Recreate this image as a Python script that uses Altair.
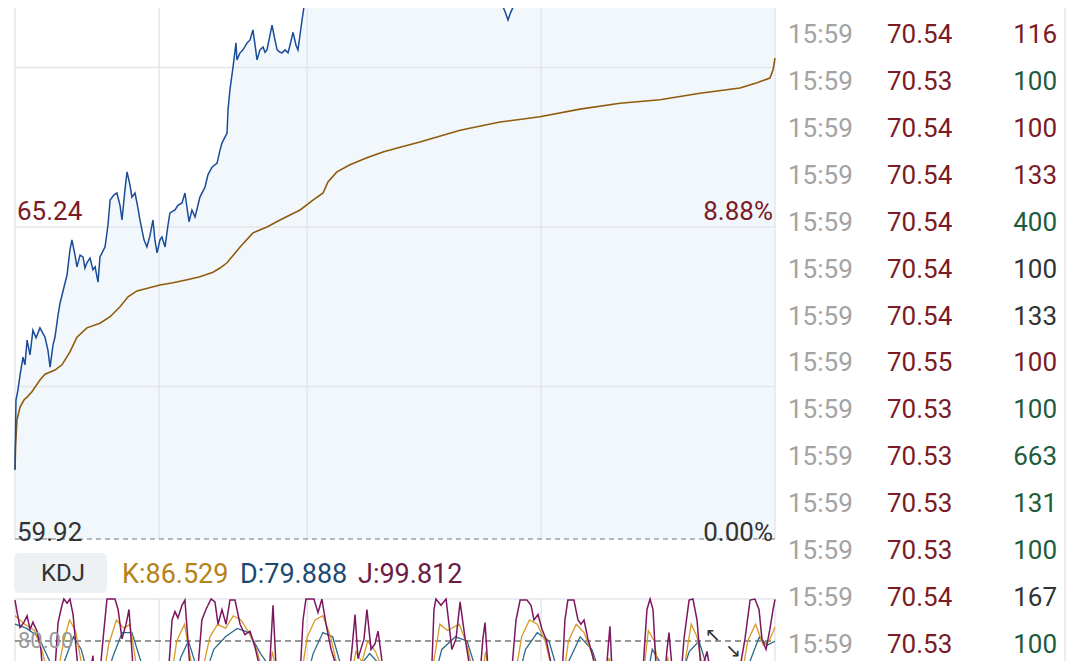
import altair as alt
import pandas as pd

# ---------------- data ----------------
prev_close = 59.92
label_price = 65.24
label_pct = "8.88%"

# intraday price (minutes from open, price)
price_t = [0, 0.5, 1.5, 2.6, 4.1, 5.1, 6.2, 7.7, 9.2, 10.8,
           12.8, 15.4, 16.9, 18.0, 19.5, 20.5, 22.1, 23.1, 25.7, 26.7,
           28.2, 29.2, 30.8, 31.8, 33.4, 34.9, 35.9, 36.9, 38.5, 40.0,
           41.1, 42.6, 43.6, 46.2, 47.7, 48.8, 50.8, 52.3, 53.9, 54.9,
           56.4, 57.5, 59.0, 60.0, 61.6, 63.1, 64.1, 66.2, 67.7, 69.3,
           70.8, 71.8, 72.9, 74.4, 75.4, 77.0, 78.5, 79.5, 82.1, 83.6,
           85.7, 87.2, 89.3, 90.8, 92.4, 94.9, 97.5, 99.0, 101.1, 103.7,
           105.2, 106.2, 108.8, 109.3, 110.3, 111.9, 113.4, 113.9, 115.5, 117.0,
           119.1, 120.6, 122.1, 123.2, 124.2, 125.7, 127.3, 128.3, 129.3, 130.9,
           131.9, 133.4, 134.5, 136.0, 137.0, 138.6, 140.1, 141.1, 142.7, 144.2,
           145.2, 147.3, 148.8, 154, 162, 172, 182, 198, 213, 228,
           244, 249, 251.5, 253.0, 254, 255.6, 257.6, 264, 280, 300,
           326, 351.5, 372, 390]
price_v = [61.10, 62.29, 62.46, 62.72, 63.02, 62.89, 63.31, 63.06, 63.48, 63.35,
           63.52, 63.36, 63.14, 62.85, 63.23, 63.36, 63.74, 63.94, 64.29, 64.42,
           64.85, 65.02, 64.76, 64.56, 64.76, 64.73, 64.54, 64.63, 64.71, 64.51,
           64.56, 64.30, 64.73, 64.90, 65.27, 65.70, 65.79, 65.82, 65.61, 65.36,
           65.87, 66.18, 65.96, 65.75, 65.82, 65.56, 65.36, 65.02, 64.90, 65.10,
           65.36, 65.02, 64.80, 65.02, 65.07, 64.90, 65.27, 65.48, 65.53, 65.61,
           65.65, 65.82, 65.33, 65.53, 65.41, 65.75, 65.92, 66.13, 66.26, 66.33,
           66.55, 66.67, 66.84, 67.23, 67.58, 67.97, 68.38, 68.09, 68.21, 68.26,
           68.38, 68.43, 68.60, 68.34, 68.09, 68.26, 68.31, 68.22, 68.26, 68.52,
           68.68, 68.43, 68.26, 68.22, 68.21, 68.26, 68.21, 68.34, 68.56, 68.34,
           68.26, 68.77, 69.11, 69.7, 70.3, 70.9, 71.3, 70.9, 70.4, 69.9,
           69.5, 69.11, 68.91, 68.77, 68.87, 68.99, 69.11, 69.6, 70.1, 70.5,
           70.8, 70.6, 70.5, 70.53]

# average price line
vwap_t = [0, 0.3, 1.0, 2.6, 4.6, 6.2, 8.7, 12.8, 15.4, 20.5,
          24.1, 28.2, 31.8, 36.9, 43.6, 48.8, 53.9, 58.0, 62.6, 74.4,
          81.1, 88.3, 94.9, 101.6, 105.2, 108.8, 115.5, 122.1, 129.3, 136.0,
          146.3, 152.9, 158.1, 160.6, 165.2, 171.9, 180.6, 188.8, 197.6, 207.8,
          228.4, 248.9, 269.4, 289.9, 310.5, 331.0, 351.5, 372.0, 380.8, 387.4,
          389.0, 390]
vwap_v = [61.10, 61.52, 61.95, 62.17, 62.29, 62.34, 62.43, 62.63, 62.73, 62.80,
          62.89, 63.11, 63.36, 63.52, 63.60, 63.71, 63.88, 64.05, 64.15, 64.25,
          64.29, 64.34, 64.39, 64.47, 64.54, 64.63, 64.90, 65.14, 65.24, 65.36,
          65.53, 65.70, 65.82, 66.01, 66.18, 66.30, 66.42, 66.52, 66.60, 66.69,
          66.89, 67.03, 67.12, 67.25, 67.35, 67.41, 67.52, 67.61, 67.70, 67.78,
          67.92, 68.12]

grid_prices = [62.52, 65.24, 67.96]
grid_times = [0, 74, 150, 270, 390]

# KDJ indicator
j_t = [0, 1.0, 2.6, 4.6, 6.2, 7.7, 9.2, 11.3, 13.3, 15.4,
       19, 22.1, 24.1, 25.1, 26.7, 28.2, 29.8, 32.3, 35.4, 38.5,
       40.0, 41.6, 45.2, 47.2, 51.3, 52.9, 54.9, 57.0, 58.5, 60.6,
       64.1, 76.9, 80.6, 82.1, 83.6, 85.7, 87.2, 89.8, 92.4, 95.9,
       98.0, 100.6, 102.6, 104.2, 106.2, 108.3, 110.3, 112.9, 115.5, 118.0,
       120.6, 123.2, 125.7, 128.3, 130.9, 132.4, 134.0, 137, 145.2, 147.8,
       149.3, 153.4, 155.5, 157.5, 159.6, 162.2, 165.2, 169.3, 172.9, 174.5,
       176.0, 179.1, 180.6, 182.7, 184.7, 186.3, 188.8, 192.4, 213, 215,
       216, 218.6, 221.2, 224.2, 226.3, 228.4, 231, 233.5, 237, 240.1,
       241.2, 242.7, 246.3, 255, 257.1, 259.2, 262.7, 264.8, 266.3, 268.4,
       270.4, 272.5, 275.6, 279.7, 282.2, 283.7, 286.8, 288.9, 290.4, 292,
       294, 296.1, 298.1, 301.7, 304.3, 305.3, 306.3, 310.5, 322.3, 324.3,
       325.9, 327.4, 329, 332, 334.6, 335.6, 337.2, 340.2, 343.3, 345.9,
       347.9, 350, 352, 354.1, 355.1, 356.6, 361.8, 369.5, 372, 374.6,
       377.2, 379.7, 381.8, 383.3, 385.4, 387.4, 389, 390]
j_v = [99.5, 94, 86.5, 89, 92, 85.6, 89, 84.7, 76, 50,
       45, 88.8, 97, 100, 98, 100, 92.6, 67, 40, 64,
       73, 45, 81, 100, 100, 95, 81, 88, 95, 67,
       35, 40, 90, 94, 91, 97, 99.5, 67, 50, 90,
       95, 100, 98.6, 88, 95, 88, 99.5, 99.5, 88, 83,
       84.7, 77, 67, 50, 71.6, 97, 67, 45, 45, 90,
       100, 100, 93.5, 100, 88, 76, 67, 45, 76, 92.6,
       71.6, 81, 95, 76, 78.6, 84.7, 67, 45, 45, 95,
       100, 97, 100, 76, 81, 98.6, 81, 67, 45, 81,
       88.8, 67, 45, 67, 90, 99.5, 99.5, 97, 90, 92.6,
       85.6, 81, 67, 45, 90, 99.5, 99.5, 90, 88, 90,
       81, 74, 67, 45, 76, 87, 67, 45, 67, 95,
       100, 95, 67, 50, 76, 84, 67, 45, 81, 99.5,
       100, 90, 67, 71.6, 75, 67, 45, 50, 67, 81,
       99.5, 100, 95, 81, 76, 85.6, 95, 99.812]
k_t = [0, 5, 10, 14, 18, 22, 25, 28, 31, 34,
       37, 45, 48, 52, 56, 59, 62, 66, 79, 83,
       87, 90, 94, 96, 100, 104, 108, 112, 116, 120,
       124, 128, 130, 132, 135, 146, 150, 154, 158, 162,
       166, 172, 175, 178, 181, 185, 188, 192, 214, 218,
       222, 228, 232, 236, 240, 241.5, 244, 256, 260, 264,
       268, 272, 276, 281, 284, 288, 292, 296, 300, 305,
       307, 322, 325, 328, 331, 335, 337, 343, 347, 350,
       353, 355, 372, 376, 380, 384, 387, 390]
k_v = [92, 88, 85, 75, 60, 65, 80, 90, 85, 70,
       55, 60, 78, 90, 86, 88, 70, 55, 55, 80,
       88, 72, 55, 65, 82, 88, 86, 92, 90, 84,
       76, 62, 60, 75, 62, 58, 82, 90, 92, 82,
       65, 62, 75, 70, 80, 75, 68, 55, 65, 88,
       85, 88, 78, 60, 65, 75, 60, 60, 82, 90,
       88, 80, 65, 60, 80, 88, 84, 74, 58, 72,
       60, 60, 85, 80, 62, 72, 60, 65, 88, 82,
       66, 68, 58, 80, 88, 78, 80, 86.529]
d_t = [0, 6, 12, 18, 22, 26, 30, 34, 38, 46,
       50, 55, 60, 64, 70, 80, 85, 89, 93, 97,
       102, 108, 114, 120, 126, 132, 138, 148, 153, 158,
       163, 168, 175, 182, 188, 195, 214, 219, 226, 232,
       238, 243, 250, 257, 262, 268, 274, 279, 284, 290,
       296, 302, 306, 312, 323, 327, 331, 336, 340, 346,
       351, 355, 360, 372, 377, 382, 386, 390]
d_v = [88, 86, 82, 70, 62, 72, 82, 76, 62, 58,
       72, 84, 84, 72, 56, 52, 72, 80, 68, 62,
       76, 82, 86, 84, 74, 66, 56, 56, 74, 84,
       82, 66, 66, 74, 68, 55, 58, 76, 82, 80,
       62, 62, 52, 58, 76, 84, 80, 64, 70, 82,
       76, 60, 65, 55, 55, 76, 70, 66, 58, 75,
       80, 68, 58, 55, 70, 82, 78, 79.888]
kdj_ref = 80.00

# time & sales list
trade_time = ["15:59"] * 14
trade_price = ["70.54", "70.53", "70.54", "70.54", "70.54", "70.54", "70.54",
               "70.55", "70.53", "70.53", "70.53", "70.53", "70.54", "70.53"]
trade_vol = [116, 100, 100, 133, 400, 100, 133, 100, 100, 663, 131, 100, 167, 100]
trade_dir = ["buy", "sell", "buy", "buy", "sell", "flat", "flat",
             "buy", "sell", "sell", "sell", "sell", "flat", "sell"]

# ---------------- styling ----------------
FONT = "Roboto"
RED = "#7b1b25"
GREEN = "#1d5b3d"
DARK = "#333333"
GRID = "#e3e6ea"
W, H = 1064, 653

X_MAIN = alt.Scale(domain=[0, 390], range=[7, 767], nice=False, zero=False)
Y_MAIN = alt.Scale(domain=[prev_close, label_price], range=[531, 219], nice=False, zero=False)
Y_KDJ = alt.Scale(domain=[80, 100], range=[633, 591], nice=False, zero=False)
Y_ROW = alt.Scale(domain=[0, 13], range=[27, 637], nice=False, zero=False)

price_df = pd.DataFrame({"t": price_t, "p": price_v, "base": prev_close})
vwap_df = pd.DataFrame({"t": vwap_t, "p": vwap_v})
hgrid_df = pd.DataFrame({"p": grid_prices, "t0": 0, "t1": 390})
vgrid_df = pd.DataFrame({"t": grid_times, "p0": prev_close, "p1": 72.0, "k0": 100, "k1": 30})
base_df = pd.DataFrame({"p": [prev_close], "t0": [0], "t1": [390]})
kref_df = pd.DataFrame({"k": [100, kdj_ref], "t0": 0, "t1": 390, "kind": ["top", "ref"]})
j_df = pd.DataFrame({"t": j_t, "v": j_v})
k_df = pd.DataFrame({"t": k_t, "v": k_v})
d_df = pd.DataFrame({"t": d_t, "v": d_v})
trade_df = pd.DataFrame({"row": list(range(len(trade_time))), "time": trade_time,
                         "price": trade_price, "vol": [str(v) for v in trade_vol],
                         "dir": trade_dir})
top_lbl = pd.DataFrame({"t": [0, 390], "p": [label_price, label_price],
                        "txt": [f"{label_price:.2f}", label_pct]})
bot_lbl = pd.DataFrame({"t": [0, 390], "p": [prev_close, prev_close],
                        "txt": [f"{prev_close:.2f}", "0.00%"]})
one = pd.DataFrame({"a": [0]})

def X(field):
    return alt.X(field, type="quantitative", scale=X_MAIN, axis=None)

def YM(field):
    return alt.Y(field, type="quantitative", scale=Y_MAIN, axis=None)

def YK(field):
    return alt.Y(field, type="quantitative", scale=Y_KDJ, axis=None)

area = alt.Chart(price_df).mark_area(color="#f2f7fc").encode(
    x=X("t"), y=YM("p"), y2="base:Q")
hgrid = alt.Chart(hgrid_df).mark_rule(color=GRID, strokeWidth=1.5).encode(
    x=X("t0"), x2="t1:Q", y=YM("p"))
vgrid = alt.Chart(vgrid_df).mark_rule(color=GRID, strokeWidth=1.5).encode(
    x=X("t"), y=YM("p0"), y2="p1:Q")
vgrid_k = alt.Chart(vgrid_df).mark_rule(color=GRID, strokeWidth=1.5).encode(
    x=X("t"), y=YK("k0"), y2="k1:Q")
base = alt.Chart(base_df).mark_rule(color="#777777", strokeWidth=1.2, strokeDash=[5, 4]).encode(
    x=X("t0"), x2="t1:Q", y=YM("p"))
vwap = alt.Chart(vwap_df).mark_line(color="#8f5b0c", strokeWidth=1.6).encode(
    x=X("t"), y=YM("p"))
price = alt.Chart(price_df).mark_line(color="#1a4c98", strokeWidth=1.5).encode(
    x=X("t"), y=YM("p"))

top_l = alt.Chart(top_lbl).transform_filter("datum.t == 0").mark_text(
    font=FONT, fontSize=26, color=RED, align="left", baseline="alphabetic", dx=2, dy=-7
).encode(x=X("t"), y=YM("p"), text="txt:N")
top_r = alt.Chart(top_lbl).transform_filter("datum.t == 390").mark_text(
    font=FONT, fontSize=26, color=RED, align="right", baseline="alphabetic", dx=-2, dy=-7
).encode(x=X("t"), y=YM("p"), text="txt:N")
bot_l = alt.Chart(bot_lbl).transform_filter("datum.t == 0").mark_text(
    font=FONT, fontSize=26, color=DARK, align="left", baseline="alphabetic", dx=2, dy=2
).encode(x=X("t"), y=YM("p"), text="txt:N")
bot_r = alt.Chart(bot_lbl).transform_filter("datum.t == 390").mark_text(
    font=FONT, fontSize=26, color=DARK, align="right", baseline="alphabetic", dx=-2, dy=2
).encode(x=X("t"), y=YM("p"), text="txt:N")

# KDJ panel
k_top = alt.Chart(kref_df).transform_filter("datum.kind == 'top'").mark_rule(
    color=GRID, strokeWidth=1.5).encode(x=X("t0"), x2="t1:Q", y=YK("k"))
k_ref = alt.Chart(kref_df).transform_filter("datum.kind == 'ref'").mark_rule(
    color=DARK, strokeWidth=1.2, strokeDash=[6, 4]).encode(x=X("t0"), x2="t1:Q", y=YK("k"))
k_ref_lbl = alt.Chart(kref_df).transform_filter("datum.kind == 'ref'").mark_text(
    font=FONT, fontSize=22, color="#9a9a9a", align="left", baseline="middle", dx=3
).encode(x=X("t0"), y=YK("k"), text=alt.Text("k:Q", format=".2f"))
d_line = alt.Chart(d_df).mark_line(color="#2a6b8a", strokeWidth=1.3).encode(x=X("t"), y=YK("v"))
k_line = alt.Chart(k_df).mark_line(color="#d89c26", strokeWidth=1.3).encode(x=X("t"), y=YK("v"))
j_line = alt.Chart(j_df).mark_line(color="#7d1660", strokeWidth=1.5).encode(x=X("t"), y=YK("v"))

hdr_box = alt.Chart(one).mark_rect(color="#eef1f4", cornerRadius=5).encode(
    x=alt.value(6), x2=alt.value(99), y=alt.value(545), y2=alt.value(585))
hdr_kdj = alt.Chart(one).mark_text(font=FONT, fontSize=24, color=DARK, align="center",
                                   baseline="middle").encode(
    x=alt.value(55), y=alt.value(566), text=alt.value("KDJ"))
hdr_k = alt.Chart(one).mark_text(font=FONT, fontSize=27, color="#b58317", align="left",
                                 baseline="middle").encode(
    x=alt.value(114), y=alt.value(567), text=alt.value(f"K:{k_v[-1]:.3f}"))
hdr_d = alt.Chart(one).mark_text(font=FONT, fontSize=27, color="#1d4a72", align="left",
                                 baseline="middle").encode(
    x=alt.value(232), y=alt.value(567), text=alt.value(f"D:{d_v[-1]:.3f}"))
hdr_j = alt.Chart(one).mark_text(font=FONT, fontSize=27, color="#6b1d45", align="left",
                                 baseline="middle").encode(
    x=alt.value(350), y=alt.value(567), text=alt.value(f"J:{j_v[-1]:.3f}"))

arrow1 = alt.Chart(one).mark_text(font="DejaVu Sans", fontSize=19, color=DARK).encode(
    x=alt.value(705), y=alt.value(627), text=alt.value("↖"))
arrow2 = alt.Chart(one).mark_text(font="DejaVu Sans", fontSize=19, color=DARK).encode(
    x=alt.value(725), y=alt.value(643), text=alt.value("↘"))

# trade list
YR = alt.Y("row:Q", scale=Y_ROW, axis=None)
t_time = alt.Chart(trade_df).mark_text(font=FONT, fontSize=26, color="#a3a3a3",
                                       align="left", baseline="middle").encode(
    x=alt.value(780), y=YR, text="time:N")
t_price = alt.Chart(trade_df).mark_text(font=FONT, fontSize=26, color=RED,
                                        align="left", baseline="middle").encode(
    x=alt.value(879), y=YR, text="price:N")
t_vol = alt.Chart(trade_df).mark_text(font=FONT, fontSize=26, align="right",
                                      baseline="middle").encode(
    x=alt.value(1049), y=YR, text="vol:N",
    color=alt.Color("dir:N", scale=alt.Scale(domain=["buy", "sell", "flat"],
                                             range=[RED, GREEN, DARK]), legend=None))
sep = alt.Chart(one).mark_rule(color="#e6e6e6", strokeWidth=1.5).encode(
    x=alt.value(1057), y=alt.value(0), y2=alt.value(H))

chart = alt.layer(
    area, hgrid, vgrid, base, vwap, price, top_l, top_r, bot_l, bot_r,
    vgrid_k, k_top, k_ref, d_line, k_line, j_line, k_ref_lbl,
    hdr_box, hdr_kdj, hdr_k, hdr_d, hdr_j, arrow1, arrow2,
    t_time, t_price, t_vol, sep
).resolve_scale(x="independent", y="independent", color="independent").properties(
    width=W, height=H, autosize=alt.AutoSizeParams(type="none"), padding=0,
    background="white"
).configure_view(stroke=None)

chart.save("out.html", embed_options={"renderer": "svg", "actions": False})
